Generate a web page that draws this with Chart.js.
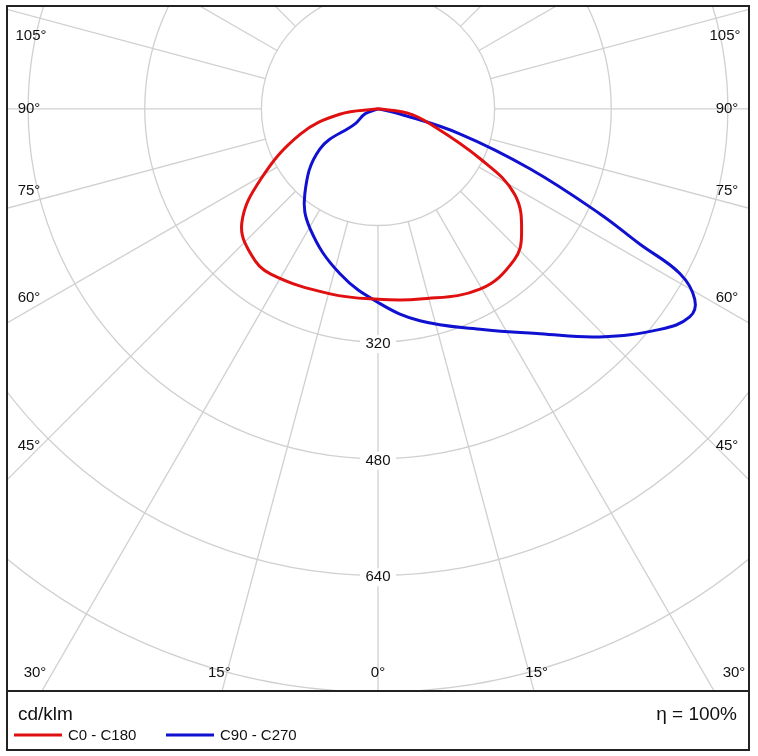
<!DOCTYPE html>
<html>
<head>
<meta charset="utf-8">
<script src="https://cdn.jsdelivr.net/npm/chart.js@4/dist/chart.umd.min.js"></script>
<style>
  html, body { margin: 0; padding: 0; background: #fff; }
  #wrap { width: 758px; height: 756px; position: relative; }
</style>
</head>
<body>
<div id="wrap"><canvas id="c" width="758" height="756"></canvas></div>
<script>
// gamma angles (deg, 0 = straight down, negative = left) and intensities (cd/klm)
const redAngles = [-90, -82, -72, -59, -50, -41, -33, -14.5, 0, 12.5, 29.5, 42, 49, 58, 64, 74, 82, 90];
const redValues = [0, 53, 112, 188, 244, 265, 270, 262, 261, 267, 284, 279, 261, 221, 156, 74, 40, 0];
const blueAngles = [-90, -69, -57, -55.4, -40.7, -29.5, -13, 0.6, 11.2, 24.9, 35.8, 44.2, 52, 56.3, 59, 61.4, 62.7, 64.7, 68.5, 73, 77, 90];
const blueValues = [0, 19, 37, 97, 154, 189, 232, 267, 296, 333, 380, 436, 491, 514, 507, 472, 404, 337, 224, 118, 31, 0];
const circleValues = [160, 320, 480, 640, 800, 960, 1120, 1280];
const intensityLabels = [320, 480, 640];
const angleLabels = [0, 15, 30, 45, 60, 75, 90, 105];
const spokeAngles = [0, 15, 30, 45, 60, 75, 90, 105, 120, 135, 150, 165, 180, -15, -30, -45, -60, -75, -90, -105, -120, -135, -150, -165];

function toXY(angles, values) {
  return angles.map((a, i) => {
    const r = a * Math.PI / 180;
    return { x: values[i] * Math.sin(r), y: values[i] * Math.cos(r) };
  });
}

const polarGrid = {
  id: 'polarGrid',
  beforeDatasetsDraw(chart) {
    const { ctx, chartArea: ca, scales: { x, y } } = chart;
    const cx = x.getPixelForValue(0), cy = y.getPixelForValue(0);
    const k = x.getPixelForValue(100) - cx;
    ctx.save();
    ctx.beginPath();
    ctx.rect(ca.left, ca.top, ca.width, ca.height);
    ctx.clip();
    ctx.strokeStyle = '#d0d0d0';
    ctx.lineWidth = 1.3;
    circleValues.forEach(v => {
      ctx.beginPath();
      ctx.arc(cx, cy, v * k / 100, 0, Math.PI * 2);
      ctx.stroke();
    });
    spokeAngles.forEach(a => {
      const r = a * Math.PI / 180;
      const r0 = circleValues[0] * k / 100;
      ctx.beginPath();
      ctx.moveTo(cx + r0 * Math.sin(r), cy + r0 * Math.cos(r));
      ctx.lineTo(cx + 2000 * Math.sin(r), cy + 2000 * Math.cos(r));
      ctx.stroke();
    });
    ctx.font = '15px Arial, "Liberation Sans", sans-serif';
    ctx.fillStyle = '#111';
    ctx.textAlign = 'center';
    ctx.textBaseline = 'middle';
    // intensity labels along 0 degrees
    intensityLabels.forEach(v => {
      const py = cy + v * k / 100 + 2;
      ctx.fillStyle = '#fff';
      ctx.fillRect(cx - 18, py - 9, 36, 18);
      ctx.fillStyle = '#111';
      ctx.fillText(String(v), cx, py);
    });
    // angle labels near the frame
    const left = ca.left + 22, right = ca.right - 22, bottom = ca.bottom - 18, top = ca.top + 18;
    angleLabels.forEach(a => {
      [1, -1].forEach(s => {
        if (a === 0 && s < 0) return;
        let px, py;
        if (a <= 30) {
          const r = a * Math.PI / 180;
          px = cx + s * (bottom - cy) * Math.tan(r) * (1 + a * 0.0033);
          py = bottom;
          if (a === 30) px = s > 0 ? right + 7 : left + 6;
        } else if (a === 105) {
          px = s > 0 ? right - 2 : left + 2; py = top + 12;
        } else {
          const r = a * Math.PI / 180;
          px = s > 0 ? right : left;
          py = cy + (right - cx) / Math.tan(r) - (a === 90 ? 0 : 12);
          if (a === 45) py += 0;
        }
        ctx.fillStyle = '#111';
        ctx.fillText(a + '°', px, py);
      });
    });
    ctx.restore();
  },
  afterDraw(chart) {
    const { ctx, chartArea: ca } = chart;
    ctx.save();
    ctx.strokeStyle = '#222';
    ctx.lineWidth = 2;
    ctx.strokeRect(ca.left, ca.top, ca.width, 750 - ca.top);
    ctx.beginPath();
    ctx.moveTo(ca.left, ca.bottom);
    ctx.lineTo(ca.right, ca.bottom);
    ctx.stroke();
    ctx.fillStyle = '#111';
    ctx.textBaseline = 'middle';
    ctx.font = '19px Arial, "Liberation Sans", sans-serif';
    ctx.fillText('cd/klm', 18, 715);
    ctx.textAlign = 'right';
    ctx.fillText('η = 100%', 737, 715);
    ctx.textAlign = 'left';
    ctx.font = '15px Arial, "Liberation Sans", sans-serif';
    const items = [['C0 - C180', chart.data.datasets[0].borderColor, 14], ['C90 - C270', chart.data.datasets[1].borderColor, 166]];
    items.forEach(([label, color, x0]) => {
      ctx.strokeStyle = color;
      ctx.lineWidth = 3;
      ctx.beginPath();
      ctx.moveTo(x0, 735);
      ctx.lineTo(x0 + 48, 735);
      ctx.stroke();
      ctx.fillText(label, x0 + 54, 736);
    });
    ctx.restore();
  }
};

new Chart(document.getElementById('c'), {
  type: 'scatter',
  data: {
    datasets: [
      { label: 'C0 - C180', data: toXY(redAngles, redValues), borderColor: '#e01010', showLine: true, pointRadius: 0, borderWidth: 3, tension: 0.4, fill: false },
      { label: 'C90 - C270', data: toXY(blueAngles, blueValues), borderColor: '#1010d0', showLine: true, pointRadius: 0, borderWidth: 3, tension: 0.4, fill: false }
    ]
  },
  options: {
    responsive: false,
    animation: false,
    layout: { padding: { left: 7, right: 9, top: 6, bottom: 65 } },
    scales: {
      x: { type: 'linear', display: false, min: -509, max: 509 },
      y: { type: 'linear', display: false, reverse: true, min: -141, max: 798 }
    },
    plugins: { legend: { display: false }, tooltip: { enabled: false } }
  },
  plugins: [polarGrid]
});
</script>
</body>
</html>
